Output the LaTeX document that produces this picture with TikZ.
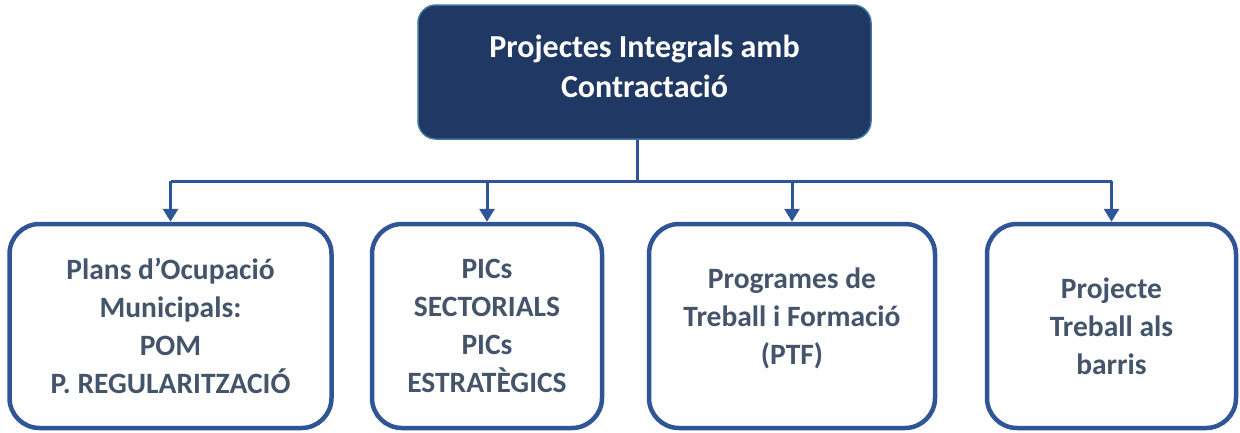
\documentclass[tikz,border=0pt]{standalone}
\usepackage{fontspec}
\setmainfont{Carlito}
\usepackage{tikz}
\usetikzlibrary{arrows.meta}
\definecolor{navyblue}{RGB}{32, 56, 100}
\definecolor{edgeblue}{RGB}{65, 113, 156}
\definecolor{lineblue}{RGB}{47, 85, 151}
\definecolor{slategray}{RGB}{68, 84, 106}

\begin{document}
\begin{tikzpicture}[x=1pt, y=-1pt]
    % Define styles
    \tikzstyle{header} = [rectangle, rounded corners=18pt, minimum width=453pt, minimum height=134pt, draw=edgeblue, fill=navyblue, line width=1.5pt]
    \tikzstyle{title} = [text centered, align=center, text=white, font=\fontsize{32}{40}\selectfont\bfseries]
    \tikzstyle{branch} = [rectangle, rounded corners=30pt, minimum height=204pt, text centered, align=center, draw=lineblue, fill=white, line width=4.5pt, text=slategray, font=\fontsize{29.5}{38}\selectfont\bfseries]
    \tikzstyle{line} = [line width=3pt, color=lineblue]
    \tikzstyle{arrow} = [line width=3pt, color=lineblue, -{Triangle[length=13pt, width=15pt]}]

    \useasboundingbox (0,0) rectangle (1240,432);

    % Nodes
    \node [header] (top) at (644.5,72) {};
    \node [title] (toptext) at ([yshift=6pt]top.center) {Projectes Integrals amb\\Contractació};
    \node [branch, minimum width=322pt] (pom) at (170.5,326) {Plans d’Ocupació\\Municipals:\\POM\\P. REGULARITZACIÓ};
    \node [branch, minimum width=230pt] (pics) at (487,326) {PICs\\SECTORIALS\\PICs\\ESTRATÈGICS};
    \node [branch, minimum width=286pt] (ptf) at (792,326) {Programes de\\Treball i Formació\\(PTF)\\[-19pt]\mbox{}};
    \node [branch, minimum width=249pt] (barris) at (1111.5,326) {Projecte\\Treball als\\barris};

    % Arrows
    \coordinate (bus) at (637,181);
    \draw [line] (bus |- top.south) -- (bus);
    \draw [line] (pom.north |- bus) -- (barris.north |- bus);
    \foreach \b in {pom,pics,ptf,barris}
        \draw [arrow] (\b.north |- bus) -- (\b.north);
\end{tikzpicture}
\end{document}
